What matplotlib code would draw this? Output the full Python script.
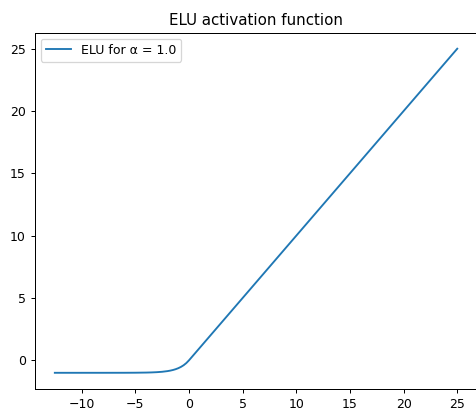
import matplotlib.pyplot as plt

# ELU curve, alpha = 1.0, sampled points
alpha = 1.0
x_vals = [-12.5, -10.0, -8.0, -6.0, -5.0, -4.0, -3.5, -3.0, -2.5, -2.0, -1.75, -1.5,
          -1.25, -1.0, -0.75, -0.5, -0.25, 0.0, 5.0, 10.0, 15.0, 20.0, 25.0]
y_vals = [-1.0, -1.0, -0.9997, -0.9975, -0.9933, -0.9817, -0.9698, -0.9502, -0.9179,
          -0.8647, -0.8262, -0.7769, -0.7135, -0.6321, -0.5276, -0.3935, -0.2212,
          0.0, 5.0, 10.0, 15.0, 20.0, 25.0]

dpi = 90
fig = plt.figure(figsize=(476 / dpi, 413 / dpi), dpi=dpi)
ax = fig.add_axes([0.0729, 0.0581, 0.930, 0.8632])
ax.plot(x_vals, y_vals, label=f'ELU for α = {alpha}')
ax.set_title('ELU activation function')
ax.legend(loc='upper left')

fig.savefig('out.png', dpi=dpi)
